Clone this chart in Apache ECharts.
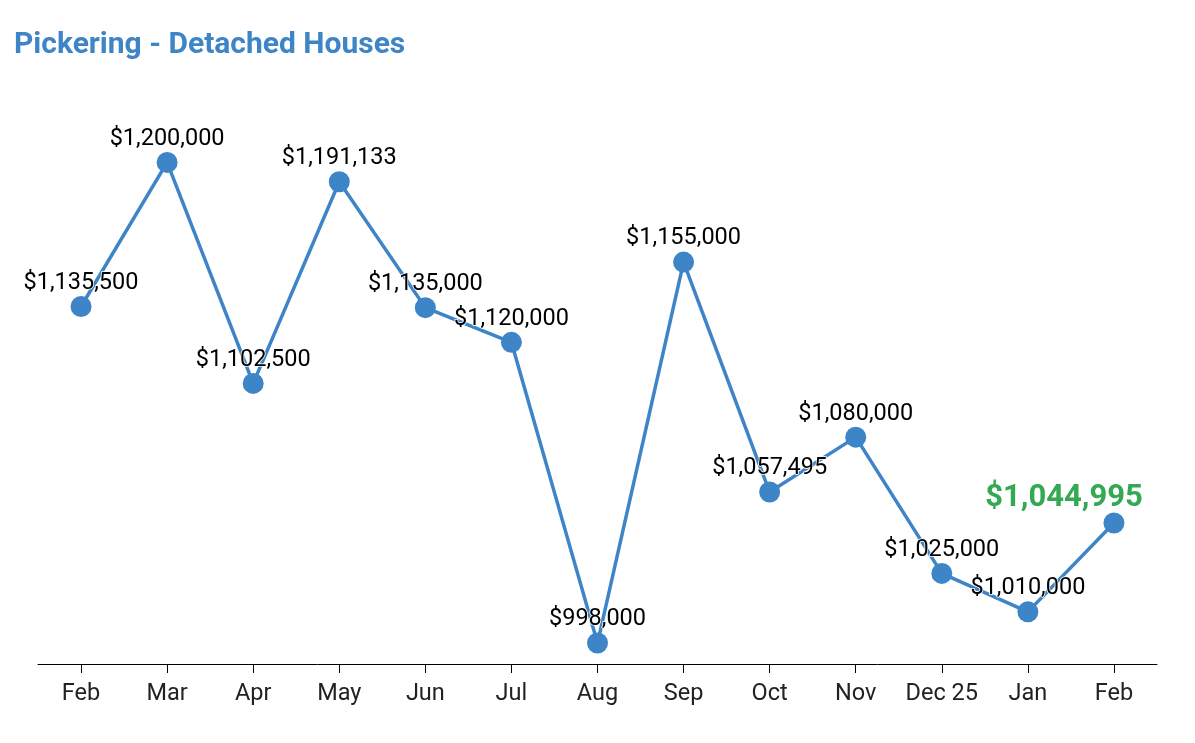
<!DOCTYPE html>
<html><head><meta charset="utf-8">
<script src="https://cdn.jsdelivr.net/npm/echarts@6/dist/echarts.min.js"></script>
<style>html,body{margin:0;padding:0;background:#fff}#c{width:1195px;height:743px}</style>
</head><body><div id="c"></div>
<script>
const titleText = 'Pickering - Detached Houses';
const months = ['Feb','Mar','Apr','May','Jun','Jul','Aug','Sep','Oct','Nov','Dec 25','Jan','Feb'];
const prices = [1135500,1200000,1102500,1191133,1135000,1120000,998000,1155000,1057495,1080000,1025000,1010000,1044995];

const fmt = v => '$' + v.toLocaleString('en-US');
const last = prices.length - 1;
const data = prices.map((v,i) => i === last ? {
  value: v,
  label: {fontSize: 31, fontWeight: 'bold', color: '#34a853', distance: 0, offset: [-50, 1]}
} : v);

const chart = echarts.init(document.getElementById('c'));
chart.setOption({
  animation: false,
  backgroundColor: '#fff',
  title: {
    text: titleText, left: 9, top: 25,
    textStyle: {fontFamily: 'Roboto', fontSize: 30, fontWeight: 'bold', color: '#3d85c6'}
  },
  grid: {left: 38, right: 38, top: 56, bottom: 79},
  xAxis: {
    type: 'category', data: months, boundaryGap: true,
    axisLine: {lineStyle: {color: '#000', width: 1}},
    axisTick: {show: true, alignWithLabel: true, interval: 0, length: 9, lineStyle: {color: '#000'}},
    axisLabel: {interval: 0, fontFamily: 'Roboto', fontSize: 23.5, color: '#222', margin: 18}
  },
  yAxis: {
    type: 'log', logBase: 10, min: 990000, max: 1250000,
    show: false, splitLine: {show: false}
  },
  series: [{
    type: 'line', data: data,
    symbol: 'circle', symbolSize: 21,
    lineStyle: {color: '#3d85c6', width: 3.5},
    itemStyle: {color: '#3d85c6'},
    label: {
      show: true, position: 'top', distance: 1,
      fontFamily: 'Roboto', fontSize: 23.5, color: '#000',
      textBorderColor: '#fff', textBorderWidth: 1.5,
      formatter: p => fmt(p.value)
    }
  }]
});
</script></body></html>
